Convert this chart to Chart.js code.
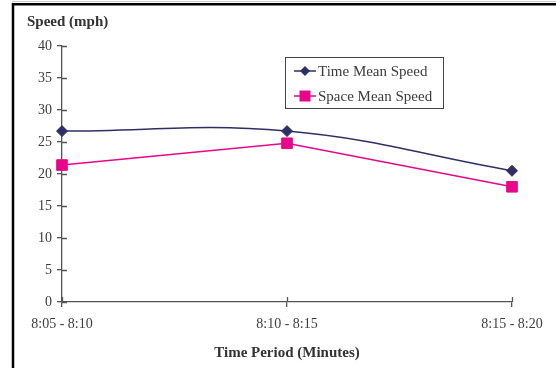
<!DOCTYPE html>
<html>
<head>
<meta charset="utf-8">
<script src="https://cdn.jsdelivr.net/npm/chart.js@4/dist/chart.umd.min.js"></script>
<style>
  html, body { margin: 0; padding: 0; background: #fff; }
  #wrap { width: 556px; height: 368px; position: relative; }
</style>
</head>
<body>
<div id="wrap"><canvas id="c"></canvas></div>
<script>
// Speed readings per five-minute period
const periods = ['8:05 - 8:10', '8:10 - 8:15', '8:15 - 8:20'];
const timeMeanSpeed = [26.7, 26.7, 20.5];
const spaceMeanSpeed = [21.4, 24.8, 18.0];
const yTickValues = [0, 5, 10, 15, 20, 25, 30, 35, 40];

const NAVY = '#2f2f66';
const MAGENTA = '#e8068a';
const AXIS = '#555555';
const TEXT = '#3c3c3c';
const SERIF = '"Liberation Serif", "DejaVu Serif", serif';

// Outer frame, axis ticks crossing into the plot, left title and legend box
const decorations = {
  id: 'decorations',
  beforeDraw(chart) {
    const ctx = chart.ctx;
    ctx.save();
    ctx.fillStyle = '#ffffff';
    ctx.fillRect(0, 0, chart.width, chart.height);
    ctx.strokeStyle = '#c8c8c8';
    ctx.lineWidth = 1;
    ctx.beginPath(); ctx.moveTo(12, 1.5); ctx.lineTo(chart.width, 1.5); ctx.stroke();
    ctx.strokeStyle = '#000';
    ctx.lineWidth = 2.5;
    ctx.beginPath();
    ctx.moveTo(chart.width, 4.2);
    ctx.lineTo(13, 4.2);
    ctx.lineTo(13, chart.height);
    ctx.stroke();
    ctx.restore();
  },
  afterDatasetsDraw(chart) {
    const ctx = chart.ctx;
    const x = chart.scales.x, y = chart.scales.y;
    ctx.save();
    ctx.strokeStyle = AXIS;
    ctx.lineWidth = 1.3;
    ctx.beginPath();
    yTickValues.forEach(v => {
      const py = Math.round(y.getPixelForValue(v)) + 0.5;
      ctx.moveTo(x.left, py); ctx.lineTo(x.left + 5, py);
    });
    periods.forEach((p, i) => {
      const px = Math.round(x.getPixelForValue(i)) + 0.5;
      ctx.moveTo(px, y.bottom); ctx.lineTo(px, y.bottom - 5);
    });
    ctx.stroke();

    // axis title above the value axis
    ctx.fillStyle = '#333';
    ctx.font = 'bold 15px ' + SERIF;
    ctx.textBaseline = 'middle';
    ctx.textAlign = 'left';
    ctx.fillText('Speed (mph)', 27, 22);

    // legend box with line + marker samples
    const bx = 285, by = 57, bw = 158, bh = 51;
    ctx.strokeStyle = '#444';
    ctx.lineWidth = 1;
    ctx.strokeRect(bx + 0.5, by + 0.5, bw, bh);
    ctx.font = '15px ' + SERIF;
    chart.data.datasets.forEach((ds, i) => {
      const cy = by + 14 + i * 25;
      ctx.strokeStyle = ds.borderColor;
      ctx.lineWidth = 1.5;
      ctx.beginPath(); ctx.moveTo(bx + 9, cy); ctx.lineTo(bx + 31, cy); ctx.stroke();
      ctx.fillStyle = ds.pointBackgroundColor;
      if (ds.pointStyle === 'rectRot') {
        ctx.beginPath();
        ctx.moveTo(bx + 20 - 5, cy); ctx.lineTo(bx + 20, cy - 5);
        ctx.lineTo(bx + 20 + 5, cy); ctx.lineTo(bx + 20, cy + 5);
        ctx.closePath(); ctx.fill();
      } else {
        ctx.fillRect(bx + 20 - 5.5, cy - 5.5, 11, 11);
      }
      ctx.fillStyle = TEXT;
      ctx.fillText(ds.label, bx + 33, cy + 1);
    });
    ctx.restore();
  }
};

new Chart(document.getElementById('c'), {
  type: 'line',
  data: {
    labels: periods,
    datasets: [
      {
        label: 'Time Mean Speed',
        data: timeMeanSpeed,
        borderColor: NAVY,
        backgroundColor: NAVY,
        pointBackgroundColor: NAVY,
        pointBorderColor: NAVY,
        pointStyle: 'rectRot',
        pointRadius: 5.5,
        pointBorderWidth: 1,
        borderWidth: 1.5,
        tension: 0.4
      },
      {
        label: 'Space Mean Speed',
        data: spaceMeanSpeed,
        borderColor: MAGENTA,
        backgroundColor: MAGENTA,
        pointBackgroundColor: MAGENTA,
        pointBorderColor: MAGENTA,
        pointStyle: 'rect',
        pointRadius: 7.5,
        pointBorderWidth: 1,
        borderWidth: 1.5,
        tension: 0
      }
    ]
  },
  options: {
    responsive: true,
    maintainAspectRatio: false,
    animation: false,
    layout: { padding: { top: 46, right: 44, left: 0, bottom: 0 } },
    plugins: {
      legend: { display: false },
      tooltip: { enabled: false }
    },
    scales: {
      x: {
        offset: false,
        afterFit(s) { s.height = 66; },
        grid: { drawOnChartArea: false, drawTicks: true, tickLength: 5, color: AXIS, lineWidth: 1.3 },
        border: { color: AXIS, width: 1.3 },
        ticks: { color: TEXT, padding: 9, font: { family: SERIF, size: 14 }, maxRotation: 0 },
        title: {
          display: true,
          text: 'Time Period (Minutes)',
          color: '#333',
          font: { family: SERIF, size: 15, weight: 'bold' },
          padding: { top: 4, bottom: 6 }
        }
      },
      y: {
        min: 0,
        max: 40,
        afterFit(s) { s.width = 62; },
        afterBuildTicks(s) { s.ticks = yTickValues.map(v => ({ value: v })); },
        grid: { drawOnChartArea: false, drawTicks: true, tickLength: 5, color: AXIS, lineWidth: 1.3 },
        border: { color: AXIS, width: 1.3 },
        ticks: { color: TEXT, padding: 5, font: { family: SERIF, size: 14 } }
      }
    }
  },
  plugins: [decorations]
});
</script>
</body>
</html>
